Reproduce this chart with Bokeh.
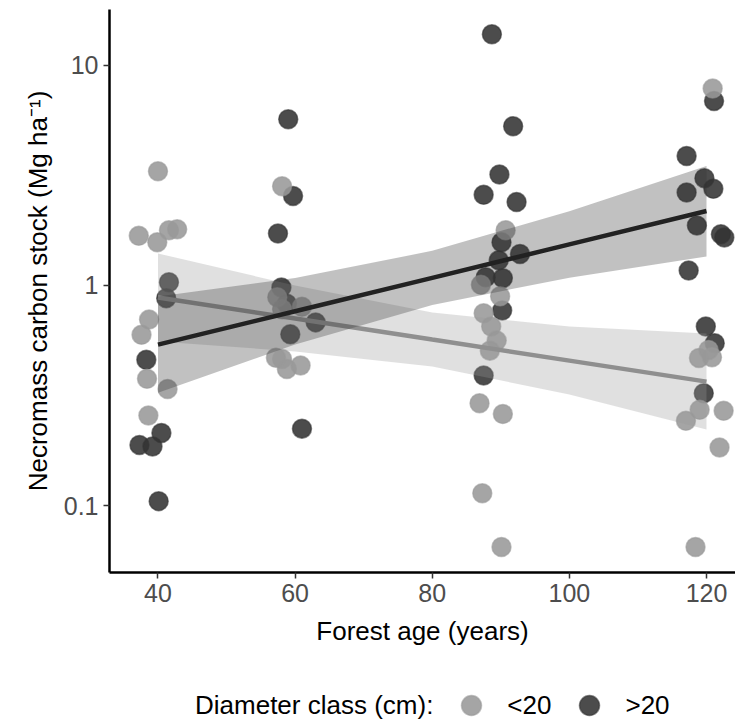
from bokeh.plotting import figure
from bokeh.models import Range1d, FixedTicker, Legend, LegendItem
from bokeh.layouts import column
from bokeh.core.properties import value
from bokeh.embed import file_html
from bokeh.resources import INLINE

# ---- data ----
small_age = [40.0, 37.2, 39.9, 41.6, 42.8, 38.7, 37.6, 38.4, 38.6, 41.4,
             58.1, 57.4, 58.1, 61.0, 58.1, 58.8, 60.8, 57.2,
             90.7, 87.1, 89.9, 87.5, 88.6, 89.4, 88.4, 86.9, 90.3, 87.3, 90.1,
             120.9, 118.9, 120.8, 120.3, 119.0, 122.5, 117.0, 121.9, 118.4]
small_stock = [3.30, 1.68, 1.57, 1.78, 1.80, 0.70, 0.597, 0.377, 0.257, 0.339,
               2.82, 0.885, 0.78, 0.80, 0.464, 0.418, 0.433, 0.47,
               1.78, 1.007, 0.894, 0.748, 0.651, 0.562, 0.506, 0.292, 0.261, 0.114, 0.065,
               7.84, 0.469, 0.472, 0.51, 0.273, 0.270, 0.243, 0.184, 0.065]

large_age = [41.6, 41.2, 38.3, 40.5, 37.3, 39.2, 40.1,
             59.0, 59.7, 57.5, 58.0, 58.8, 63.0, 59.3, 61.0,
             88.7, 91.8, 89.8, 87.5, 92.3, 90.1, 92.8, 89.7, 87.8, 90.3, 90.2, 87.5,
             121.1, 117.1, 119.7, 121.0, 117.1, 118.6, 122.1, 122.6, 117.4, 119.9, 121.2, 119.6]
large_stock = [1.035, 0.876, 0.46, 0.214, 0.189, 0.186, 0.105,
               5.68, 2.55, 1.72, 0.98, 0.826, 0.68, 0.60, 0.224,
               13.8, 5.28, 3.19, 2.58, 2.39, 1.57, 1.39, 1.30, 1.09, 1.08, 0.77, 0.39,
               6.88, 3.87, 3.07, 2.75, 2.64, 1.87, 1.71, 1.65, 1.17, 0.651, 0.547, 0.324]

fit_age = [40, 60, 80, 100, 120]
small_fit = [0.882, 0.708, 0.568, 0.456, 0.366]
small_lower = [0.557, 0.502, 0.429, 0.320, 0.222]
small_upper = [1.397, 1.0, 0.754, 0.652, 0.606]
large_fit = [0.539, 0.764, 1.083, 1.536, 2.177]
large_lower = [0.326, 0.540, 0.816, 1.085, 1.354]
large_upper = [0.891, 1.082, 1.436, 2.174, 3.485]

y_ticks = [0.1, 1, 10]
y_tick_labels = ["0.1", "1", "10"]
x_ticks = [40, 60, 80, 100, 120]
legend_title = "Diameter class (cm):"
class_labels = ["<20", ">20"]

LIGHT = "#999999"
DARK = "#333333"
FONT = "Liberation Sans"
W = 735
H_MAIN = 655
H_LEG = 64

p = figure(width=W, height=H_MAIN, output_backend="svg", toolbar_location=None,
           y_axis_type="log",
           x_range=Range1d(32.93, 124.23), y_range=Range1d(0.0498, 17.89),
           min_border_left=109, min_border_right=0, min_border_top=9,
           min_border_bottom=H_MAIN - 572)
p.outline_line_color = None
p.xgrid.grid_line_color = None
p.ygrid.grid_line_color = None
p.background_fill_color = "white"
p.border_fill_color = "white"

PT = dict(size=19, fill_alpha=0.88, line_alpha=0.6, line_width=1.5)

# points
dark_pts = p.scatter(large_age, large_stock, fill_color=DARK, line_color=DARK, **PT)
light_pts = p.scatter(small_age, small_stock, fill_color=LIGHT, line_color=LIGHT, **PT)

# smooths: ribbon + line per group
p.varea(x=fit_age, y1=small_lower, y2=small_upper, fill_color=LIGHT, fill_alpha=0.3)
p.line(fit_age, small_fit, line_color="#8f8f8f", line_width=4.5)
p.varea(x=fit_age, y1=large_lower, y2=large_upper, fill_color=DARK, fill_alpha=0.3)
p.line(fit_age, large_fit, line_color="#222222", line_width=4.5)

# axes
for ax in (p.xaxis[0], p.yaxis[0]):
    ax.axis_line_width = 2.5
    ax.axis_line_color = "black"
    ax.major_tick_line_color = "#333333"
    ax.major_tick_line_width = 1.5
    ax.major_tick_out = 6
    ax.major_tick_in = 0
    ax.minor_tick_line_color = None
    ax.major_label_text_font = FONT
    ax.major_label_text_font_size = "25px"
    ax.major_label_text_color = "#4d4d4d"
    ax.axis_label_text_font = FONT
    ax.axis_label_text_font_size = "26px"
    ax.axis_label_text_font_style = "normal"
    ax.axis_label_text_color = "black"

p.xaxis.ticker = FixedTicker(ticks=x_ticks)
p.yaxis.ticker = FixedTicker(ticks=y_ticks)
p.yaxis.major_label_overrides = {t: l for t, l in zip(y_ticks, y_tick_labels)}
p.xaxis.axis_label = "Forest age (years)"
p.yaxis.axis_label = "Necromass carbon stock (Mg ha\u207b\u00b9)"
p.xaxis.major_label_standoff = 5
p.xaxis.axis_label_standoff = 11
p.yaxis.major_label_standoff = 5
p.yaxis.axis_label_standoff = 8

# legend in its own strip below the plot (frame aligned with the main plot)
lg = figure(width=W, height=H_LEG, output_backend="svg", toolbar_location=None,
            x_range=Range1d(0, 1), y_range=Range1d(0, 1),
            x_axis_location=None, y_axis_location=None,
            min_border=0, min_border_left=0, min_border_right=0,
            min_border_top=0, min_border_bottom=0)
lg.outline_line_color = None
lg.xgrid.grid_line_color = None
lg.ygrid.grid_line_color = None
lg.border_fill_color = "white"
lg.background_fill_color = "white"
# one off-range point each so the legend swatches get drawn; nothing shows in the strip
blank = lg.scatter([-5], [-5], size=1, fill_alpha=0, line_alpha=0)
leg_light = lg.scatter([-5], [-5], fill_color=LIGHT, line_color=LIGHT, **PT)
leg_dark = lg.scatter([-5], [-5], fill_color=DARK, line_color=DARK, **PT)
legend = Legend(items=[LegendItem(label=value(legend_title), renderers=[blank]),
                       LegendItem(label=value(class_labels[0]), renderers=[leg_light]),
                       LegendItem(label=value(class_labels[1]), renderers=[leg_dark])],
                orientation="horizontal", location=(25, -11),
                glyph_width=50, glyph_height=50, label_standoff=11, spacing=13,
                padding=0, margin=0, border_line_color=None, background_fill_alpha=0,
                label_text_font=FONT, label_text_font_size="26px", label_text_color="black")
lg.add_layout(legend, "center")

layout = column(p, lg, spacing=0)
open("out.html", "w").write(file_html(layout, INLINE))
